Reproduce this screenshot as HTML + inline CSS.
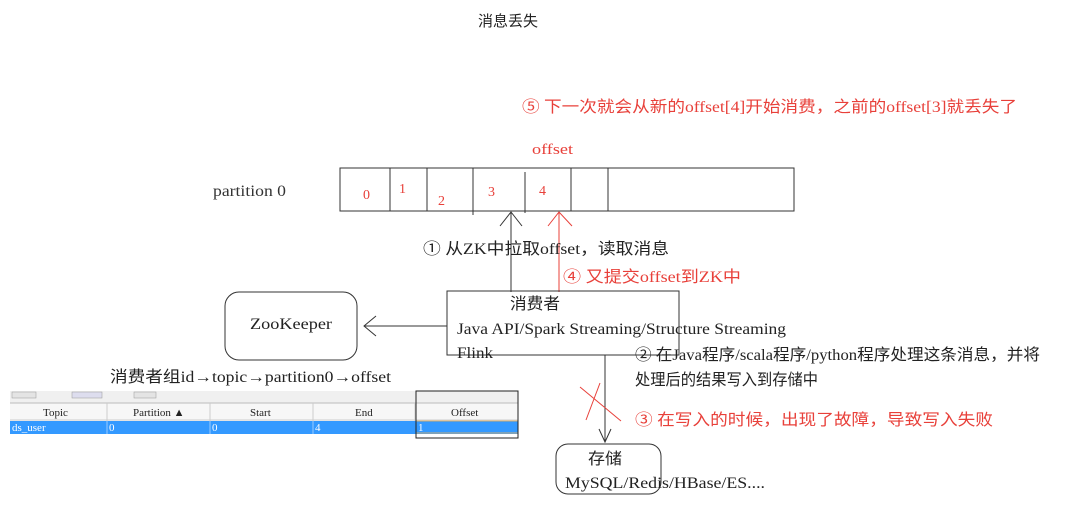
<!DOCTYPE html>
<html><head><meta charset="utf-8">
<style>
html,body{margin:0;padding:0;background:#fff;}
svg{display:block;}
text{font-family:"Liberation Serif","Noto Sans CJK SC",serif;}
.cj{font-family:"Liberation Sans","Noto Sans CJK SC",sans-serif;}
.red{fill:#e8403a;}
.tb{font-family:"Liberation Sans","Noto Sans CJK SC",sans-serif;font-size:11px;}
</style></head><body>
<svg width="1078" height="507" viewBox="0 0 1078 507" xmlns="http://www.w3.org/2000/svg">
<rect width="1078" height="507" fill="#fff"/>
<text x="478" y="26" class="cj" font-size="15" fill="#222">消息丢失</text>

<text x="522" y="112" font-size="16" class="red" textLength="495" lengthAdjust="spacingAndGlyphs">⑤ 下一次就会从新的offset[4]开始消费，之前的offset[3]就丢失了</text>
<text x="532" y="154" font-size="15" class="red" textLength="41" lengthAdjust="spacingAndGlyphs">offset</text>

<text x="213" y="196" font-size="16" fill="#333" textLength="73" lengthAdjust="spacingAndGlyphs">partition 0</text>
<rect x="340" y="168" width="454" height="43" fill="none" stroke="#333" stroke-width="1"/>
<g stroke="#333" stroke-width="1">
<line x1="390" y1="168" x2="390" y2="211"/>
<line x1="427" y1="168" x2="427" y2="211"/>
<line x1="473" y1="168" x2="473" y2="215"/>
<line x1="525" y1="172" x2="525" y2="213"/>
<line x1="571" y1="168" x2="571" y2="211"/>
<line x1="608" y1="168" x2="608" y2="211"/>
</g>
<g font-size="14" class="red">
<text x="363" y="199">0</text>
<text x="399" y="193">1</text>
<text x="438" y="205">2</text>
<text x="488" y="196">3</text>
<text x="539" y="195">4</text>
</g>

<g stroke="#333" stroke-width="1" fill="none">
<line x1="511" y1="292" x2="511" y2="212"/>
<polyline points="500,226 511,212 522,226"/>
</g>
<g stroke="#e8403a" stroke-width="1" fill="none">
<line x1="559" y1="292" x2="559" y2="212"/>
<polyline points="548,226 559,212 572,226"/>
</g>
<text x="423" y="254" font-size="16" fill="#222" textLength="246" lengthAdjust="spacingAndGlyphs">① 从ZK中拉取offset，读取消息</text>
<text x="563" y="282" font-size="16" class="red" textLength="178" lengthAdjust="spacingAndGlyphs">④ 又提交offset到ZK中</text>

<rect x="447" y="291" width="232" height="64" fill="none" stroke="#333"/>
<text x="510" y="309" font-size="16" fill="#222" textLength="50" lengthAdjust="spacingAndGlyphs">消费者</text>
<text x="457" y="334" font-size="16" fill="#222" textLength="329" lengthAdjust="spacingAndGlyphs">Java API/Spark Streaming/Structure Streaming</text>
<text x="457" y="358" font-size="16" fill="#222" textLength="36" lengthAdjust="spacingAndGlyphs">Flink</text>

<rect x="225" y="292" width="132" height="68" rx="14" fill="none" stroke="#333"/>
<text x="250" y="329" font-size="16" fill="#222" textLength="82" lengthAdjust="spacingAndGlyphs">ZooKeeper</text>
<g stroke="#333" stroke-width="1" fill="none">
<line x1="447" y1="326" x2="364" y2="326"/>
<polyline points="376,316 364,326 376,336"/>
</g>

<g stroke="#333" stroke-width="1" fill="none">
<line x1="605" y1="355" x2="605" y2="442"/>
<polyline points="599,429 605,442 611,429"/>
</g>
<g stroke="#e8403a" stroke-width="1">
<line x1="580" y1="387" x2="621" y2="421"/>
<line x1="600" y1="383" x2="586" y2="420"/>
</g>
<rect x="556" y="444" width="105" height="50" rx="12" fill="none" stroke="#333"/>
<text x="588" y="464" font-size="16" fill="#222" textLength="34" lengthAdjust="spacingAndGlyphs">存储</text>
<text x="565" y="488" font-size="16" fill="#222" textLength="200" lengthAdjust="spacingAndGlyphs">MySQL/Redis/HBase/ES....</text>

<text x="635" y="360" font-size="16" fill="#222" textLength="405" lengthAdjust="spacingAndGlyphs">② 在Java程序/scala程序/python程序处理这条消息，并将</text>
<text x="635" y="385" font-size="16" fill="#222" textLength="183" lengthAdjust="spacingAndGlyphs">处理后的结果写入到存储中</text>
<text x="635" y="425" font-size="16" class="red" textLength="358" lengthAdjust="spacingAndGlyphs">③ 在写入的时候，出现了故障，导致写入失败</text>

<text x="110" y="382" font-size="16" fill="#222" textLength="281" lengthAdjust="spacingAndGlyphs">消费者组id→topic→partition0→offset</text>

<rect x="10" y="391" width="508" height="12" fill="#f0f0f0"/>
<rect x="12" y="392" width="24" height="6" fill="#e4e4e4" stroke="#999" stroke-width="0.5"/>
<rect x="72" y="392" width="30" height="6" fill="#dde" stroke="#999" stroke-width="0.5"/>
<rect x="134" y="392" width="22" height="6" fill="#e4e4e4" stroke="#999" stroke-width="0.5"/>
<rect x="10" y="403" width="508" height="18" fill="#f7f7f7"/>
<line x1="10" y1="403" x2="518" y2="403" stroke="#bbb"/>
<line x1="10" y1="420" x2="518" y2="420" stroke="#ccc"/>
<g stroke="#ccc">
<line x1="107" y1="403" x2="107" y2="434"/>
<line x1="210" y1="403" x2="210" y2="434"/>
<line x1="313" y1="403" x2="313" y2="434"/>
<line x1="415" y1="403" x2="415" y2="434"/>
</g>
<g class="tb" fill="#222">
<text x="43" y="416">Topic</text>
<text x="133" y="416">Partition ▲</text>
<text x="250" y="416">Start</text>
<text x="355" y="416">End</text>
<text x="451" y="416">Offset</text>
</g>
<rect x="10" y="421" width="508" height="13" fill="#3399ff"/>
<g stroke="#9cf" stroke-width="1">
<line x1="107" y1="421" x2="107" y2="434"/>
<line x1="210" y1="421" x2="210" y2="434"/>
<line x1="313" y1="421" x2="313" y2="434"/>
</g>
<rect x="416" y="421" width="102" height="12" fill="#3399ff" stroke="#f0b050" stroke-width="0.8"/>
<g class="tb" fill="#fff">
<text x="12" y="431">ds_user</text>
<text x="109" y="431">0</text>
<text x="212" y="431">0</text>
<text x="315" y="431">4</text>
<text x="418" y="431">1</text>
</g>
<rect x="416" y="391" width="102" height="47" fill="none" stroke="#222" stroke-width="1"/>
</svg>
</body></html>
